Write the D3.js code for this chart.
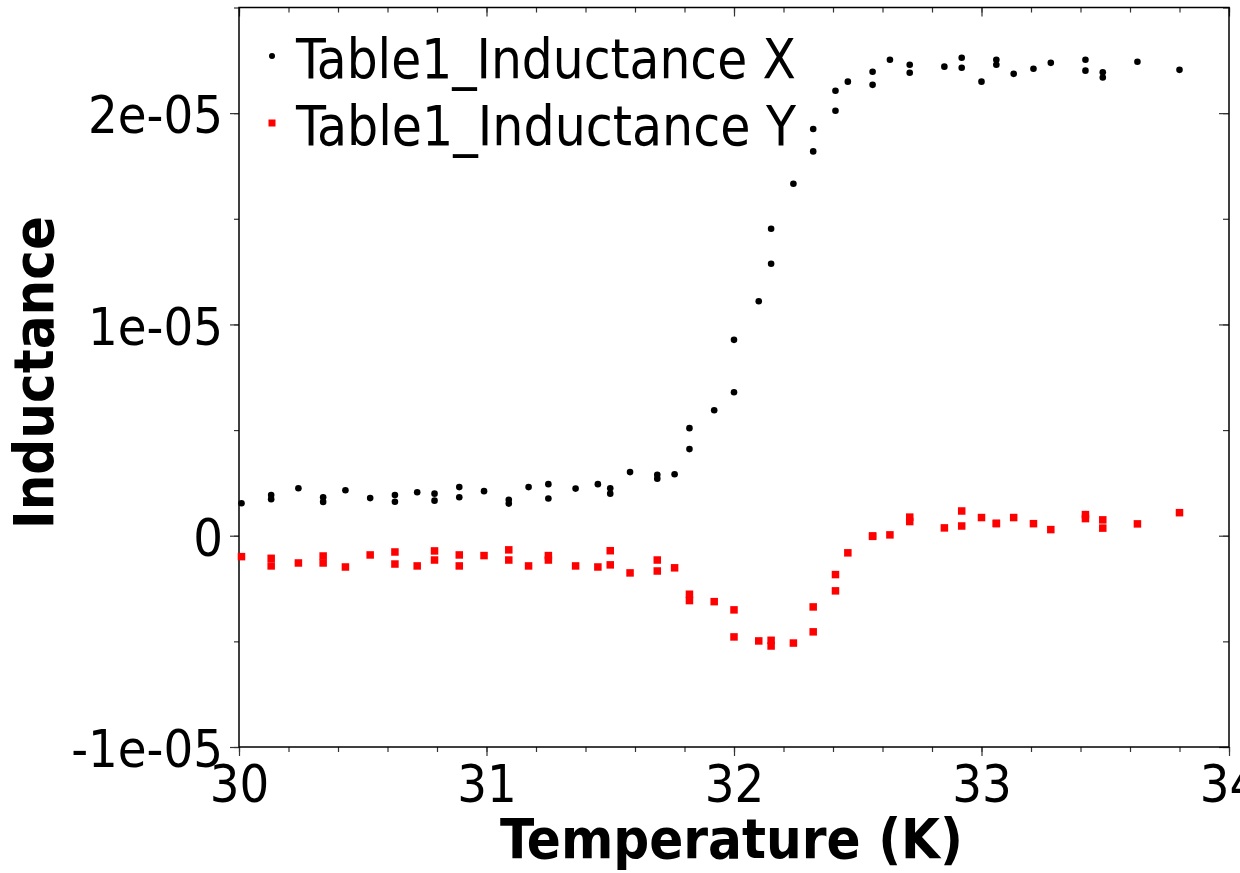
<!DOCTYPE html>
<html>
<head>
<meta charset="utf-8">
<script src="https://cdn.jsdelivr.net/npm/d3@7"></script>
<style>
  html, body { margin: 0; padding: 0; background: #ffffff; }
  svg { display: block; }
</style>
</head>
<body>
<svg id="chart" width="1240" height="873"></svg>
<script>
// ---------------- DATA ----------------
const seriesNames = ["Table1_Inductance X", "Table1_Inductance Y"];
const temperature = [
  30.01, 30.13, 30.13, 30.24, 30.34, 30.34, 30.43, 30.53, 30.63, 30.63,
  30.72, 30.79, 30.79, 30.89, 30.89, 30.99, 31.09, 31.09, 31.17, 31.25,
  31.25, 31.36, 31.45, 31.50, 31.50, 31.58, 31.69, 31.69, 31.76, 31.82,
  31.82, 31.92, 32.00, 32.00, 32.10, 32.15, 32.15, 32.24, 32.32, 32.32,
  32.41, 32.41, 32.46, 32.56, 32.56, 32.63, 32.71, 32.71, 32.85, 32.92,
  32.92, 33.00, 33.06, 33.06, 33.13, 33.21, 33.28, 33.42, 33.42, 33.49,
  33.49, 33.63, 33.80
];
const inductanceX = [
  1.54e-6, 1.93e-6, 1.73e-6, 2.25e-6, 1.82e-6, 1.60e-6, 2.15e-6, 1.78e-6, 1.93e-6, 1.61e-6,
  2.06e-6, 1.99e-6, 1.66e-6, 2.30e-6, 1.82e-6, 2.11e-6, 1.70e-6, 1.52e-6, 2.30e-6, 2.44e-6,
  1.76e-6, 2.23e-6, 2.44e-6, 2.25e-6, 1.99e-6, 3.01e-6, 2.88e-6, 2.70e-6, 2.91e-6, 5.09e-6,
  4.10e-6, 5.94e-6, 9.27e-6, 6.79e-6, 11.10e-6, 14.53e-6, 12.87e-6, 16.66e-6, 19.25e-6, 18.19e-6,
  21.06e-6, 20.11e-6, 21.49e-6, 21.96e-6, 21.34e-6, 22.53e-6, 22.29e-6, 21.91e-6, 22.20e-6, 22.62e-6,
  22.15e-6, 21.49e-6, 22.53e-6, 22.29e-6, 21.86e-6, 22.10e-6, 22.38e-6, 22.53e-6, 22.01e-6, 21.93e-6,
  21.69e-6, 22.43e-6, 22.05e-6
];
const inductanceY = [
  -0.99e-6, -1.07e-6, -1.43e-6, -1.29e-6, -0.96e-6, -1.29e-6, -1.48e-6, -0.91e-6, -0.77e-6, -1.34e-6,
  -1.43e-6, -0.72e-6, -1.15e-6, -0.91e-6, -1.43e-6, -0.94e-6, -0.67e-6, -1.15e-6, -1.43e-6, -0.94e-6,
  -1.15e-6, -1.43e-6, -1.48e-6, -0.71e-6, -1.38e-6, -1.76e-6, -1.15e-6, -1.67e-6, -1.52e-6, -2.77e-6,
  -3.07e-6, -3.12e-6, -3.51e-6, -4.79e-6, -4.98e-6, -4.95e-6, -5.22e-6, -5.08e-6, -3.37e-6, -4.55e-6,
  -1.84e-6, -2.61e-6, -0.81e-6, -0.01e-6, -0.03e-6, 0.04e-6, 0.88e-6, 0.67e-6, 0.37e-6, 1.17e-6,
  0.46e-6, 0.86e-6, 0.59e-6, 0.57e-6, 0.86e-6, 0.57e-6, 0.29e-6, 1.00e-6, 0.81e-6, 0.75e-6,
  0.36e-6, 0.56e-6, 1.09e-6
];
const xTickValues = [30, 31, 32, 33, 34];
const xTickLabels = ["30", "31", "32", "33", "34"];
const yTickValues = [-1e-5, 0, 1e-5, 2e-5];
const yTickLabels = ["-1e-05", "0", "1e-05", "2e-05"];
const xTitle = "Temperature (K)";
const yTitle = "Inductance";

// ---------------- LAYOUT ----------------
const svg = d3.select("#chart");
const L = 239, R = 1229, T = 7.5, B = 747;
const FONT = "'DejaVu Sans Condensed', 'DejaVu Sans', sans-serif";

svg.append("rect").attr("width", 1240).attr("height", 873).attr("fill", "#fff");

const x = d3.scaleLinear().domain([30, 34]).range([L, R]);
const y = d3.scaleLinear().domain([-1e-5, 2.5e-5]).range([B, T]);

const xMinor = d3.range(30, 34.001, 0.2).map(v => +v.toFixed(1));
const yMinor = d3.range(-1e-5, 2.5001e-5, 5e-6);

function styleTicks(g) {
  g.select(".domain").remove();
  g.selectAll(".tick line").attr("stroke", "#333").attr("stroke-width", 1.2);
}

// minor ticks
svg.append("g").attr("transform", `translate(0,${B})`)
  .call(d3.axisBottom(x).tickValues(xMinor).tickSize(5).tickFormat(""))
  .call(styleTicks);
svg.append("g").attr("transform", `translate(0,${T})`)
  .call(d3.axisBottom(x).tickValues(xMinor).tickSize(5).tickFormat(""))
  .call(styleTicks);
svg.append("g").attr("transform", `translate(${L},0)`)
  .call(d3.axisLeft(y).tickValues(yMinor).tickSize(5).tickFormat(""))
  .call(styleTicks);
svg.append("g").attr("transform", `translate(${R},0)`)
  .call(d3.axisLeft(y).tickValues(yMinor).tickSize(6).tickFormat(""))
  .call(styleTicks);

// major ticks
const xAxis = svg.append("g").attr("transform", `translate(0,${B})`)
  .call(d3.axisBottom(x).tickValues(xTickValues).tickSize(9)
    .tickFormat((d, i) => xTickLabels[i]))
  .call(styleTicks);
xAxis.selectAll("text")
  .attr("y", 55).attr("dy", 0)
  .attr("fill", "#000")
  .style("font-family", FONT).style("font-size", "52px");

svg.append("g").attr("transform", `translate(0,${T})`)
  .call(d3.axisBottom(x).tickValues(xTickValues).tickSize(9).tickFormat(""))
  .call(styleTicks);

const yAxis = svg.append("g").attr("transform", `translate(${L},0)`)
  .call(d3.axisLeft(y).tickValues(yTickValues).tickSize(9)
    .tickFormat((d, i) => yTickLabels[i]))
  .call(styleTicks);
yAxis.selectAll("text")
  .attr("x", -16).attr("dy", "0.38em")
  .attr("fill", "#000")
  .style("font-family", FONT).style("font-size", "52px");

svg.append("g").attr("transform", `translate(${R},0)`)
  .call(d3.axisLeft(y).tickValues(yTickValues).tickSize(10).tickFormat(""))
  .call(styleTicks);

// frame
svg.append("rect")
  .attr("x", L).attr("y", T).attr("width", R - L).attr("height", B - T)
  .attr("fill", "none").attr("stroke", "#000").attr("stroke-width", 1.5);

// ---------------- MARKS ----------------
const rows = temperature.map((t, i) => ({ t, vx: inductanceX[i], vy: inductanceY[i] }));

const plot = svg.append("g");
const SQ = 7.5;
plot.selectAll("rect.ptY").data(rows).enter().append("rect")
  .attr("class", "ptY")
  .attr("x", d => x(d.t) - SQ / 2).attr("y", d => y(d.vy) - SQ / 2)
  .attr("width", SQ).attr("height", SQ)
  .attr("fill", "#ff0000");

plot.selectAll("circle.ptX").data(rows).enter().append("circle")
  .attr("class", "ptX")
  .attr("cx", d => x(d.t)).attr("cy", d => y(d.vx))
  .attr("r", 3.3).attr("fill", "#000");

// ---------------- LEGEND ----------------
const legend = svg.append("g");
const legRows = [
  { name: seriesNames[0], base: 78, cy: 56 },
  { name: seriesNames[1], base: 145, cy: 123 }
];
legend.append("circle").attr("cx", 272).attr("cy", legRows[0].cy).attr("r", 3).attr("fill", "#000");
legend.append("rect").attr("x", 272 - 3.5).attr("y", legRows[1].cy - 3.5)
  .attr("width", 7).attr("height", 7).attr("fill", "#ff0000");
legend.selectAll("text").data(legRows).enter().append("text")
  .attr("x", 296).attr("y", d => d.base)
  .attr("textLength", 500).attr("lengthAdjust", "spacingAndGlyphs")
  .style("font-family", FONT).style("font-size", "55px").attr("fill", "#000")
  .text(d => d.name);

// ---------------- TITLES ----------------
svg.append("text")
  .attr("x", 500).attr("y", 858)
  .attr("textLength", 463).attr("lengthAdjust", "spacingAndGlyphs")
  .style("font-family", FONT).style("font-size", "55px").style("font-weight", "bold")
  .attr("fill", "#000")
  .text(xTitle);

svg.append("text")
  .attr("transform", "translate(53,529) rotate(-90)")
  .attr("x", 0).attr("y", 0)
  .attr("textLength", 313).attr("lengthAdjust", "spacingAndGlyphs")
  .style("font-family", FONT).style("font-size", "55px").style("font-weight", "bold")
  .attr("fill", "#000")
  .text(yTitle);
</script>
</body>
</html>
